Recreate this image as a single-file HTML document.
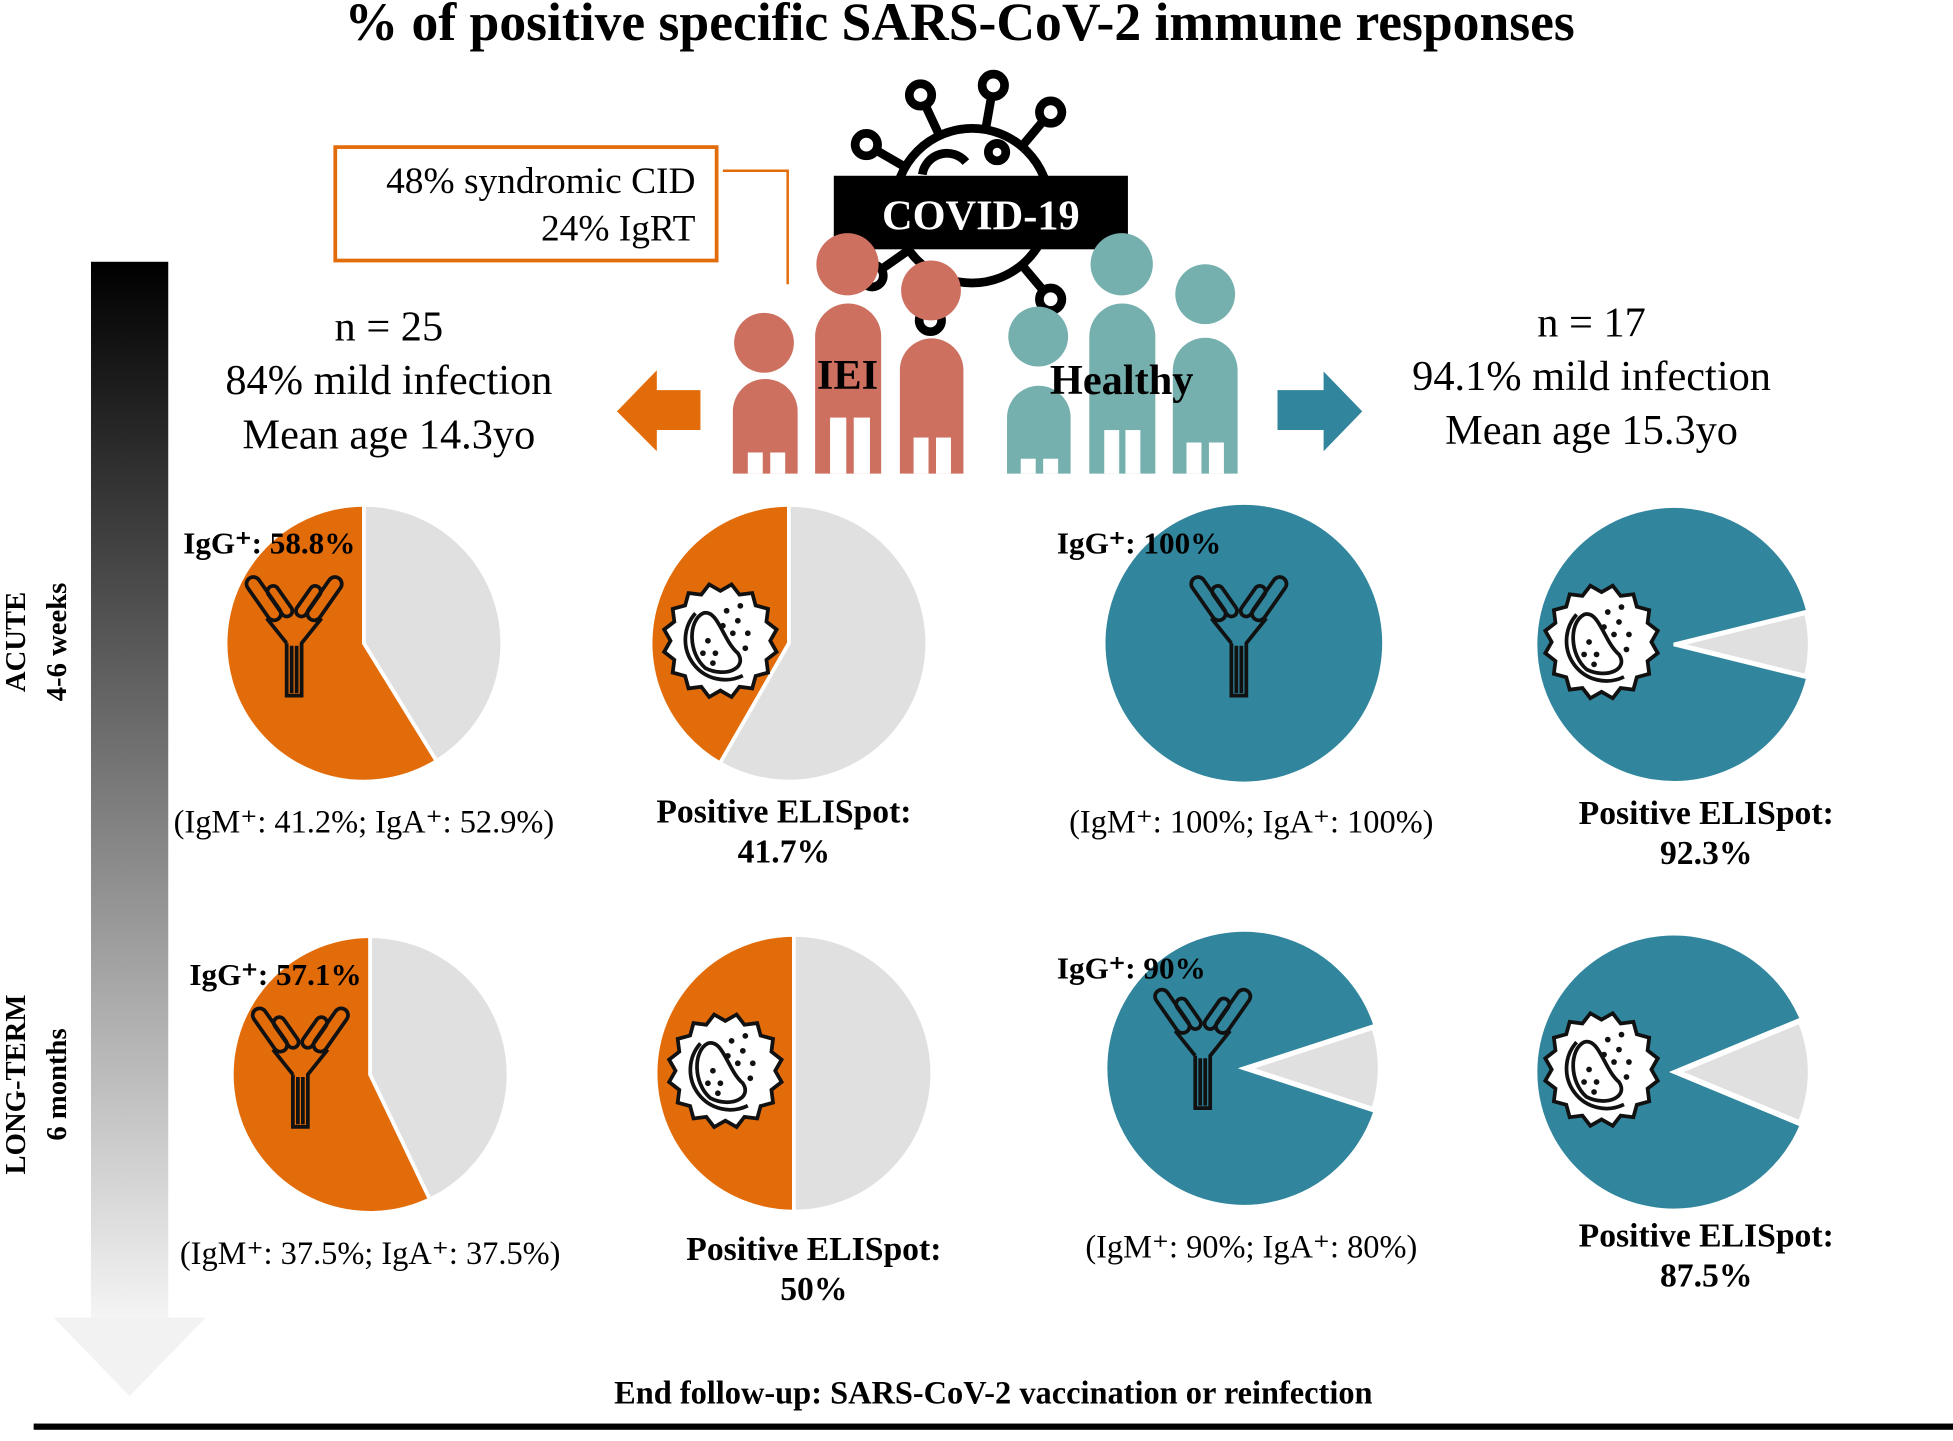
<!DOCTYPE html>
<html><head><meta charset="utf-8"><style>
html,body{margin:0;padding:0;background:#fff}
svg{display:block}
text{font-family:"Liberation Serif",serif}
</style></head><body>
<svg id="fig" width="1953" height="1441" viewBox="0 0 1567 1156" preserveAspectRatio="none" xmlns="http://www.w3.org/2000/svg">
<defs>
<linearGradient id="tg" x1="0" y1="0" x2="0" y2="1">
<stop offset="0" stop-color="#000"/><stop offset="0.5" stop-color="#7a7a7a"/><stop offset="1" stop-color="#f4f4f4"/>
</linearGradient>
</defs>
<text x="770" y="32" text-anchor="middle" font-size="43" font-weight="bold">% of positive specific SARS-CoV-2 immune responses</text>

<g>
<rect x="73" y="210" width="62" height="847" fill="url(#tg)"/>
<polygon points="43,1057 165,1057 104,1120" fill="#f2f2f2"/>
</g>
<text transform="translate(20,515) rotate(-90)" text-anchor="middle" font-size="23" font-weight="bold">ACUTE</text>
<text transform="translate(53,515) rotate(-90)" text-anchor="middle" font-size="23" font-weight="bold">4-6 weeks</text>
<text transform="translate(20,870) rotate(-90)" text-anchor="middle" font-size="23" font-weight="bold">LONG-TERM</text>
<text transform="translate(53,870) rotate(-90)" text-anchor="middle" font-size="23" font-weight="bold">6 months</text>

<g>
<rect x="269" y="118" width="306" height="91" fill="#fff" stroke="#e36c0a" stroke-width="3"/>
<text x="558" y="155" text-anchor="end" font-size="30">48% syndromic CID</text>
<text x="558" y="193" text-anchor="end" font-size="30">24% IgRT</text>
<polyline points="580,137 632,137 632,228" fill="none" stroke="#e36c0a" stroke-width="2"/>
</g>

<g fill="none" stroke="#000" stroke-width="7">
<circle cx="780" cy="165" r="62"/>
<g id="spikes"></g>
<circle cx="800" cy="122" r="7"/>
<path d="M740,140 a20,20 0 0 1 35,-10"/>
</g>
<rect x="669" y="141" width="236" height="59" fill="#000"/>
<text x="787" y="184" text-anchor="middle" font-size="34" font-weight="bold" fill="#fff">COVID-19</text>

<g fill="#cd7060">
<circle cx="613" cy="275" r="24"/><circle cx="680" cy="212" r="25"/><circle cx="747" cy="233" r="24"/>
<path d="M588,380 V330 a26,26 0 0 1 52,0 V380Z"/>
<path d="M654,380 V270 a26.5,26.5 0 0 1 53,0 V380Z"/>
<path d="M722,380 V297 a25.5,25.5 0 0 1 51,0 V380Z"/>
<g fill="#fff"><rect x="600" y="363" width="12" height="17"/><rect x="618" y="363" width="12" height="17"/><rect x="666" y="335" width="13" height="45"/><rect x="685" y="335" width="13" height="45"/><rect x="733" y="351" width="12" height="29"/><rect x="751" y="351" width="12" height="29"/></g>
</g>
<text x="680" y="312" text-anchor="middle" font-size="34" font-weight="bold">IEI</text>
<g fill="#76b0ae">
<circle cx="833" cy="270" r="24"/><circle cx="900" cy="212" r="25"/><circle cx="967" cy="236" r="24"/>
<path d="M808,380 V335 a25.5,25.5 0 0 1 51,0 V380Z"/>
<path d="M874,380 V270 a26.5,26.5 0 0 1 53,0 V380Z"/>
<path d="M941,380 V297 a26,26 0 0 1 52,0 V380Z"/>
<g fill="#fff"><rect x="819" y="368" width="12" height="12"/><rect x="837" y="368" width="12" height="12"/><rect x="886" y="345" width="12" height="35"/><rect x="903" y="345" width="12" height="35"/><rect x="952" y="355" width="12" height="25"/><rect x="970" y="355" width="12" height="25"/></g>
</g>
<text x="900" y="316" text-anchor="middle" font-size="34" font-weight="bold">Healthy</text>

<polygon points="562,313 527,313 527,297 495,330 527,362 527,345 562,345" fill="#e36c0a"/>
<polygon points="1025,313 1062,313 1062,298 1093,330 1062,362 1062,345 1025,345" fill="#31859c"/>

<g font-size="34" text-anchor="middle">
<text x="312" y="273">n = 25</text><text x="312" y="316">84% mild infection</text><text x="312" y="360">Mean age 14.3yo</text>
</g>
<g font-size="34" text-anchor="middle">
<text x="1277" y="270">n = 17</text><text x="1277" y="313">94.1% mild infection</text><text x="1277" y="356">Mean age 15.3yo</text>
</g>

<g id="pies"></g>

<text x="797" y="1126" text-anchor="middle" font-size="26" font-weight="bold">End follow-up: SARS-CoV-2 vaccination or reinfection</text>
<rect x="27" y="1142" width="1540" height="5" fill="#000"/>
</svg>
<script>
const pieLabels = ["IEI acute IgG","IEI acute ELISpot","Healthy acute IgG","Healthy acute ELISpot","IEI long-term IgG","IEI long-term ELISpot","Healthy long-term IgG","Healthy long-term ELISpot"];
const pieValues = [58.8, 41.7, 100, 92.3, 57.1, 50, 90, 87.5];
const pieGroups = ["iei","iei","healthy","healthy","iei","iei","healthy","healthy"];
const pieKinds = ["igg","elispot","igg","elispot","igg","elispot","igg","elispot"];
const captionTop = ["IgG⁺: 58.8%","","IgG⁺: 100%","","IgG⁺: 57.1%","","IgG⁺: 90%",""];
const captionBottom = ["(IgM⁺: 41.2%; IgA⁺: 52.9%)","Positive ELISpot:|41.7%","(IgM⁺: 100%; IgA⁺: 100%)","Positive ELISpot:|92.3%","(IgM⁺: 37.5%; IgA⁺: 37.5%)","Positive ELISpot:|50%","(IgM⁺: 90%; IgA⁺: 80%)","Positive ELISpot:|87.5%"];

const NS="http://www.w3.org/2000/svg";
const centersX=[292,633,998,1343,297,637,998,1343];
const centersY=[516,516,516,517,862,861,857,860];
const R=111;
const colors={iei:"#e36c0a",healthy:"#31859c"};
function mk(tag,attrs,parent){const e=document.createElementNS(NS,tag);for(const k in attrs)e.setAttribute(k,attrs[k]);parent.appendChild(e);return e;}
function pt(cx,cy,r,deg){const a=(deg-90)*Math.PI/180;return [cx+r*Math.cos(a),cy+r*Math.sin(a)];}
function wedge(cx,cy,r,a0,a1){const p0=pt(cx,cy,r,a0),p1=pt(cx,cy,r,a1);const large=(a1-a0)>180?1:0;return `M${cx},${cy} L${p0[0]},${p0[1]} A${r},${r} 0 ${large} 1 ${p1[0]},${p1[1]} Z`;}
const root=document.getElementById('pies');
const sp=document.getElementById('spikes');
[-60,-25,10,40,140,200,235].forEach(d=>{const a=pt(780,165,62,d),b=pt(780,165,88,d),c=pt(780,165,98,d);
mk('line',{x1:a[0],y1:a[1],x2:b[0],y2:b[1]},sp);mk('circle',{cx:c[0],cy:c[1],r:9},sp);});

function antibody(g,x,y){
 const a=mk('g',{transform:`translate(${x},${y})`,fill:'none',stroke:'#111','stroke-width':3},g);
 
 
 mk('path',{d:'M-6,-2 V40 H6 V-2 L22,-22 M-6,-2 L-22,-22 M-2,0 V38 M2,0 V38'},a);
 mk('rect',{x:-30,y:-58,width:11,height:40,rx:5.5,transform:'rotate(-35 -24 -38)'},a);
 mk('rect',{x:-16,y:-50,width:9,height:28,rx:4.5,transform:'rotate(-35 -11 -36)'},a);
 mk('rect',{x:19,y:-58,width:11,height:40,rx:5.5,transform:'rotate(35 24 -38)'},a);
 mk('rect',{x:7,y:-50,width:9,height:28,rx:4.5,transform:'rotate(35 11 -36)'},a);
}
function cell(g,x,y){
 const c=mk('g',{transform:`translate(${x},${y})`,stroke:'#111','stroke-width':3},g);
 
 
 let d='';for(let i=0;i<32;i++){const r=i%2?46:40;const p=pt(0,0,r,i*11.25);d+=(i?'L':'M')+p[0]+','+p[1];}
 mk('path',{d:d+'Z',fill:'#fff'},c);
 mk('path',{d:'M-20,-22 A32,32 0 0 0 18,28',fill:'none'},c);
 mk('path',{d:'M-14,-22 C-2,-26 2,0 14,10 C22,22 4,30 -12,22 C-26,10 -26,-16 -14,-22Z',fill:'#fff'},c);
 [[5,-24],[14,-16],[22,-6],[10,-6],[20,6],[2,-12],[16,-28],[-10,0],[-4,10],[-14,10],[-6,18]].forEach(p=>mk('circle',{cx:p[0],cy:p[1],r:2.3,fill:'#111',stroke:'none'},c));
}
for(let i=0;i<pieValues.length;i++){
 const g=mk('g',{},root);
 
 
 const cx=centersX[i],cy=centersY[i],v=pieValues[i],col=colors[pieGroups[i]];
 const deg=v*3.6;
 if(pieGroups[i]==='iei'){
  const s1=mk('path',{d:wedge(cx,cy,R,360-deg,360),fill:col,stroke:'#fff','stroke-width':3},g);
  
  
  const s2=mk('path',{d:wedge(cx,cy,R,0,360-deg),fill:'#e0e0e0',stroke:'#fff','stroke-width':3},g);
  
  
 } else {
  const neg=360-deg;
  if(neg<=0){const s=mk('circle',{cx:cx,cy:cy,r:R,fill:col},g);
   
   }
  else{
   const c0=90-neg/2,c1=90+neg/2;
   const s1=mk('path',{d:wedge(cx,cy,R,c1,c0+360),fill:col,stroke:'#fff','stroke-width':3},g);
   
   
   const s2=mk('path',{d:wedge(cx+4,cy,R-6,c0,c1),fill:'#e0e0e0',stroke:'#fff','stroke-width':3},g);
   
   
  }
 }
 if(pieKinds[i]==='igg') antibody(g,cx-(pieGroups[i]==='iei'?56:(i===6?33:4)),cy+(i===6?-8:2));
 else cell(g,cx-(pieGroups[i]==='iei'?55:58),cy-2);
 if(captionTop[i]){
  const t=mk('text',{x:cx-(pieGroups[i]==='iei'?145:150),y:cy-72,'font-size':25,'font-weight':'bold'},g);
  t.textContent=captionTop[i];
  
  
 }
 const parts=captionBottom[i].split('|');
 if(parts.length===1){
  const t=mk('text',{x:cx+(pieGroups[i]==='iei'?0:6),y:cy+152,'text-anchor':'middle','font-size':26},g);
  t.textContent=parts[0];
  
  
 } else {
  const off=(pieGroups[i]==='iei'?(i===1?-4:16):26);
  parts.forEach((p,k)=>{const t=mk('text',{x:cx+off,y:cy+144+k*32+(i===7?-4:(i===5?6:0)),'text-anchor':'middle','font-size':27,'font-weight':'bold'},g);
   t.textContent=p;
   
   });
 }
}
</script>
</body></html>
